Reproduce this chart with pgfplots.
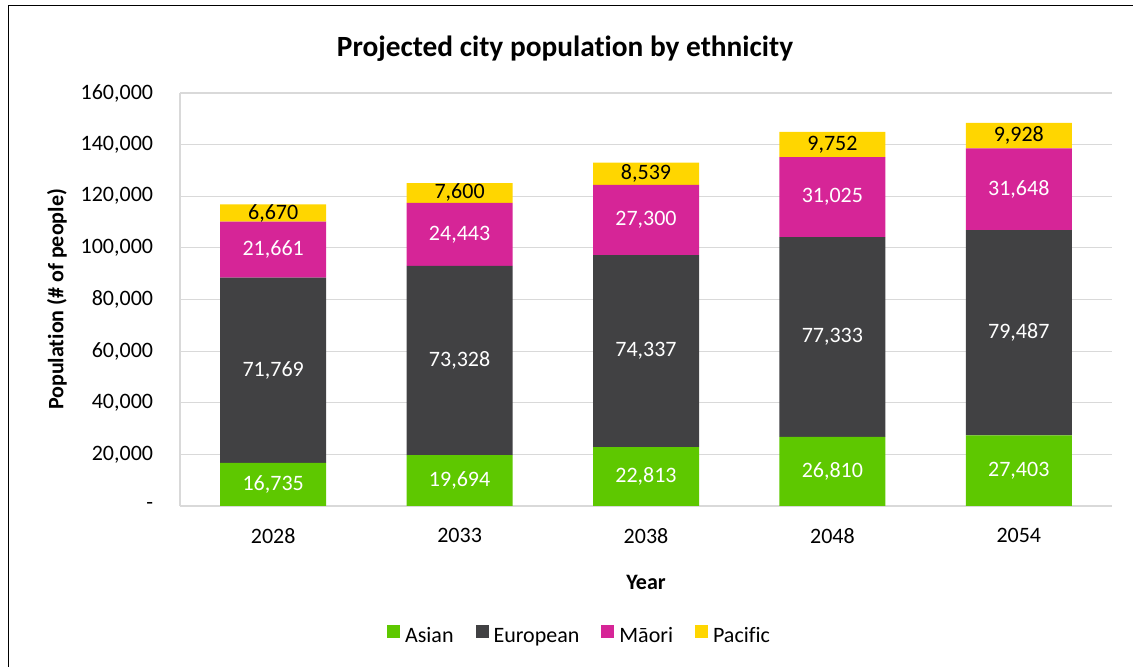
\documentclass[border=0pt]{standalone}
\usepackage{fontspec}
\setmainfont{Carlito}[Ligatures={NoCommon}]
\usepackage{pgfplots}
\pgfplotsset{compat=1.18}
\usepackage{pgfplotstable}

\definecolor{cAsian}{RGB}{94,200,0}
\definecolor{cEuro}{RGB}{65,65,67}
\definecolor{cMaori}{RGB}{214,37,151}
\definecolor{cPac}{RGB}{255,214,0}
\definecolor{cGrid}{RGB}{217,217,217}

\newcommand{\lblfont}{\fontsize{16.5pt}{19.8pt}\selectfont}

% bars: x index, value
\pgfplotstableread{
x  asian  euro   maori  pac
0  16735  71769  21661  6670
1  19694  73328  24443  7600
2  22813  74337  27300  8539
3  26810  77333  31025  9752
4  27403  79487  31648  9928
}\popdata

% label positions (mid-points of the segments)
\pgfplotstableread{
x  y         lbl
0  8367.5    16,735
1  9847      19,694
2  11406.5   22,813
3  13405     26,810
4  13701.5   27,403
0  52619.5   71,769
1  56358     73,328
2  59981.5   74,337
3  65476.5   77,333
4  67146.5   79,487
0  99334.5   21,661
1  105243.5  24,443
2  110800    27,300
3  119655.5  31,025
4  122714    31,648
}\whitelabels

\pgfplotstableread{
x  y         lbl
0  113500    6,670
1  121265    7,600
2  128719.5  8,539
3  140044    9,752
4  143502    9,928
}\blacklabels

\pgfplotsset{
  common/.style={
    at={(135pt,120.75pt)}, anchor=south west,
    width=699pt, height=309.75pt, scale only axis,
    xmin=-0.5, xmax=4.5, ymin=0, ymax=160000,
    scaled y ticks=false,
  },
}

\begin{document}
\begin{tikzpicture}
\useasboundingbox (0,0) rectangle (849.75pt,500.25pt);
\draw[line width=1.1pt, black] (6.375pt,0) -- (6.375pt,496.125pt) -- (849.75pt,496.125pt);

\begin{axis}[
  common,
  ybar stacked,
  bar width=79.5pt,
  axis x line*=bottom,
  axis y line*=left,
  axis line style={cGrid, line width=0.9pt},
  ymajorgrids,
  grid style={cGrid, line width=0.9pt},
  major tick length=0pt,
  ytick={0,20000,40000,60000,80000,100000,120000,140000,160000},
  yticklabels={{-},{20,000},{40,000},{60,000},{80,000},{100,000},{120,000},{140,000},{160,000}},
  xtick={0,1,2,3,4},
  xticklabels={2028,2033,2038,2048,2054},
  tick label style={font=\lblfont, black},
  yticklabel style={inner sep=0pt, anchor=east, xshift=-20pt},
  xticklabel style={inner sep=0pt, anchor=north, yshift=-16.5pt},
  title={Projected city population by ethnicity},
  title style={font=\fontsize{22pt}{26pt}\selectfont\bfseries, at={(axis description cs:0.4131,1.0879)}, anchor=base, yshift=-6pt, inner sep=0pt},
  xlabel={Year},
  xlabel style={font=\lblfont\bfseries, at={(axis description cs:0.5,-0.186)}, anchor=center},
  ylabel={Population (\# of people)},
  ylabel style={font=\lblfont\bfseries, at={(axis description cs:-0.132,0.5)}, anchor=center, rotate=0},
  legend columns=4,
  legend style={draw=none, fill=none, font=\lblfont,
    at={(axis description cs:0.4276,-0.312)}, anchor=center,
    /tikz/every odd column/.append style={column sep=3.75pt},
    /tikz/every even column/.append style={column sep=16.5pt},
    nodes={inner sep=0pt}},
  legend image code/.code={\fill[#1] (0pt,-1pt) rectangle (9.75pt,8.75pt);},
]
\addplot[fill=cAsian, draw=none] table[x=x, y=asian] {\popdata};
\addplot[fill=cEuro, draw=none] table[x=x, y=euro] {\popdata};
\addplot[fill=cMaori, draw=none] table[x=x, y=maori] {\popdata};
\addplot[fill=cPac, draw=none] table[x=x, y=pac] {\popdata};
\legend{Asian,European,M\=aori,Pacific}
\end{axis}

\begin{axis}[
  common,
  hide axis,
  clip=false,
]
\addplot[draw=none, mark=none, nodes near coords, point meta=explicit symbolic,
  every node near coord/.style={anchor=center, text=white, font=\lblfont}]
  table[x=x, y=y, meta=lbl] {\whitelabels};
\addplot[draw=none, mark=none, nodes near coords, point meta=explicit symbolic,
  every node near coord/.style={anchor=center, text=black, font=\lblfont}]
  table[x=x, y=y, meta=lbl] {\blacklabels};
\end{axis}
\end{tikzpicture}
\end{document}
